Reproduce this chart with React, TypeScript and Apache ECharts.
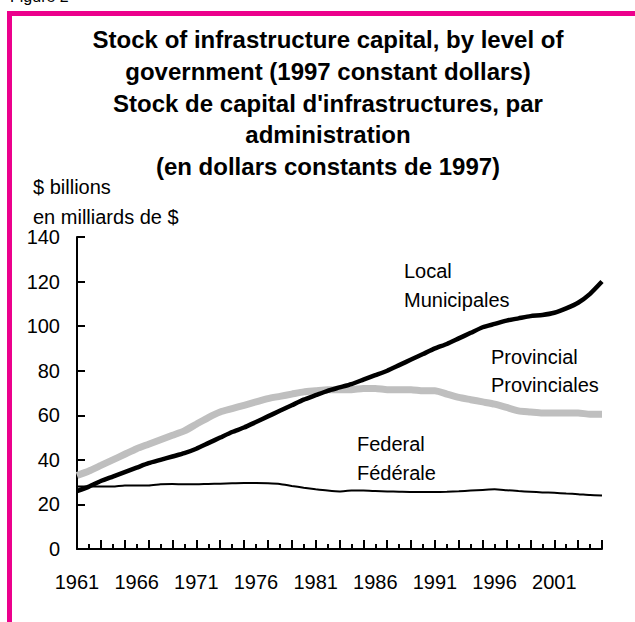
import React, { useEffect, useRef } from "react";
import * as echarts from "echarts";

const years: string[] = [
  "1961","1962","1963","1964","1965","1966","1967","1968","1969","1970",
  "1971","1972","1973","1974","1975","1976","1977","1978","1979","1980",
  "1981","1982","1983","1984","1985","1986","1987","1988","1989","1990",
  "1991","1992","1993","1994","1995","1996","1997","1998","1999","2000",
  "2001","2002","2003","2004","2005",
];

const localValues: number[] = [
  26, 28, 30.5, 32.5, 34.5, 36.5, 38.5, 40, 41.5, 43,
  45, 47.5, 50, 52.5, 54.5, 57, 59.5, 62, 64.5, 67,
  69, 71, 72.5, 74, 76, 78, 80, 82.5, 85, 87.5,
  90, 92, 94.5, 97, 99.5, 101, 102.5, 103.5, 104.5, 105,
  106, 108, 110.5, 114.5, 120,
];

const provincialValues: number[] = [
  33, 35, 37.5, 40, 42.5, 45, 47, 49, 51, 53,
  56, 59, 61.5, 63, 64.5, 66, 67.5, 68.5, 69.5, 70.5,
  71, 71.5, 71.5, 71.5, 72, 72, 71.5, 71.5, 71.5, 71,
  71, 69.5, 68, 67, 66, 65, 63.5, 62, 61.5, 61,
  61, 61, 61, 60.5, 60.5,
];

const federalValues: number[] = [
  28, 28, 28, 28, 28.5, 28.5, 28.5, 29, 29.2, 29,
  29, 29.2, 29.3, 29.5, 29.6, 29.6, 29.5, 29.2, 28.3, 27.5,
  26.8, 26.2, 25.8, 26.2, 26.2, 26, 25.8, 25.7, 25.6, 25.6,
  25.6, 25.7, 25.9, 26.2, 26.5, 26.8, 26.4, 26, 25.7, 25.4,
  25.2, 24.9, 24.6, 24.2, 24,
];

const titleLines: string[] = [
  "Stock of infrastructure capital, by level of",
  "government (1997 constant dollars)",
  "Stock de capital d'infrastructures, par",
  "administration",
  "(en dollars constants de 1997)",
];

const yUnitLines: string[] = ["$ billions", "en milliards de $"];
const localLabel: string[] = ["Local", "Municipales"];
const provincialLabel: string[] = ["Provincial", "Provinciales"];
const federalLabel: string[] = ["Federal", "Fédérale"];

const FONT = "'Liberation Sans', Arial, Helvetica, sans-serif";

export default function App() {
  const ref = useRef<HTMLDivElement>(null);

  useEffect(() => {
    if (!ref.current) return;
    const chart = echarts.init(ref.current, undefined, { renderer: "svg" });

    const txt = (text: string, x: number, y: number, extra: any = {}) => ({
      type: "text",
      x,
      y,
      z: 10,
      style: {
        text,
        fill: "#000",
        font: `20px ${FONT}`,
        fontFamily: FONT,
        fontSize: 20,
        ...extra,
      },
    });

    const option: any = {
      animation: false,
      backgroundColor: "#fff",
      grid: { left: 77, right: 33, top: 237, bottom: 73, containLabel: false },
      xAxis: [
        {
          type: "category",
          data: years,
          position: "bottom",
          boundaryGap: false,
          axisLine: { show: true, onZero: false, lineStyle: { color: "#000", width: 2 } },
          axisTick: { show: true, interval: 0, inside: true, length: 5, lineStyle: { color: "#000", width: 2 } },
          axisLabel: {
            show: true,
            interval: 4,
            margin: 23,
            color: "#000",
            fontSize: 20,
            fontFamily: FONT,
          },
          splitLine: { show: false },
        },
        {
          type: "category",
          data: years,
          position: "bottom",
          boundaryGap: false,
          axisLine: { show: false, onZero: false },
          axisTick: { show: true, interval: 1, inside: true, length: 9, lineStyle: { color: "#000", width: 2 } },
          axisLabel: { show: false },
          splitLine: { show: false },
        },
      ],
      yAxis: {
        type: "value",
        min: 0,
        max: 140,
        interval: 20,
        axisLine: { show: true, lineStyle: { color: "#000", width: 2 } },
        axisTick: { show: true, inside: true, length: 8, lineStyle: { color: "#000", width: 2 } },
        axisLabel: { color: "#000", fontSize: 20, fontFamily: FONT, margin: 17 },
        splitLine: { show: false },
      },
      series: [
        {
          name: "Provincial",
          type: "line",
          data: provincialValues,
          showSymbol: false,
          smooth: 0.2,
          lineStyle: { color: "#bfbfbf", width: 7 },
          z: 2,
        },
        {
          name: "Federal",
          type: "line",
          data: federalValues,
          showSymbol: false,
          smooth: 0.2,
          lineStyle: { color: "#000", width: 2 },
          z: 3,
        },
        {
          name: "Local",
          type: "line",
          data: localValues,
          showSymbol: false,
          smooth: 0.2,
          lineStyle: { color: "#000", width: 4.5 },
          z: 4,
        },
      ],
      graphic: [
        {
          type: "rect",
          z: 0,
          shape: { x: 9.5, y: 13.5, width: 700, height: 700 },
          style: { fill: "none", stroke: "#ec008c", lineWidth: 5 },
        },
        txt("Figure 2", 10, 4, { fontSize: 16, font: `16px ${FONT}`, verticalAlign: "bottom" }),
        {
          type: "text",
          x: 328,
          y: 24,
          z: 10,
          style: {
            text: titleLines.join("\n"),
            fill: "#000",
            font: `bold 24px ${FONT}`,
            fontFamily: FONT,
            fontSize: 24,
            fontWeight: "bold",
            lineHeight: 31.7,
            align: "center",
            verticalAlign: "top",
          },
        },
        txt(yUnitLines.join("\n"), 33, 172, { lineHeight: 30, verticalAlign: "top" }),
        txt(localLabel.join("\n"), 404, 256, { lineHeight: 29, verticalAlign: "top" }),
        txt(provincialLabel.join("\n"), 491, 343, { lineHeight: 28, verticalAlign: "top" }),
        txt(federalLabel.join("\n"), 357, 429, { lineHeight: 29, verticalAlign: "top" }),
      ],
    };

    chart.setOption(option);
    return () => chart.dispose();
  }, []);

  return (
    <div
      ref={ref}
      style={{ position: "absolute", left: 0, top: 0, width: 635, height: 622, background: "#fff" }}
    />
  );
}
